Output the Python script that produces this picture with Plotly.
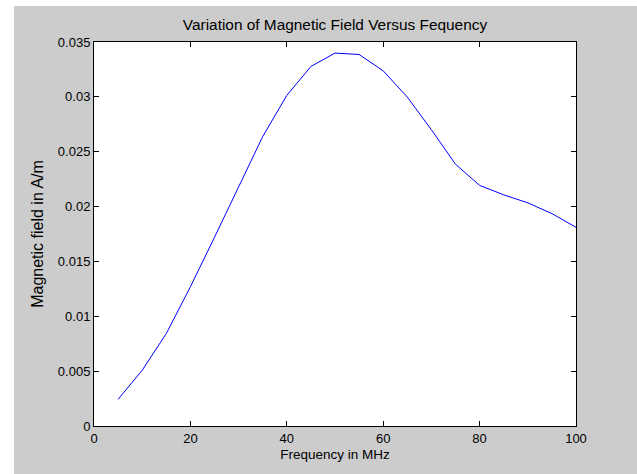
import plotly.graph_objects as go

freq = [5, 10, 15, 20, 25, 30, 35, 40, 45, 50, 55, 60, 65, 70, 75, 80, 85, 90, 95, 100]
field = [0.00243, 0.00508, 0.00843, 0.01269, 0.0172, 0.0218, 0.02638, 0.03013, 0.03277, 0.03399,
         0.03386, 0.03237, 0.02998, 0.0270, 0.02386, 0.02193, 0.02107, 0.02034, 0.01936, 0.01811]
xticks = [0, 20, 40, 60, 80, 100]
yticks = [0, 0.005, 0.01, 0.015, 0.02, 0.025, 0.03, 0.035]
ytick_labels = ["0", "0.005", "0.01", "0.015", "0.02", "0.025", "0.03", "0.035"]

W, H = 637, 474
L, R, T, B = 94, 61, 42, 48
pw, ph = W - L - R, H - T - B

fig = go.Figure(go.Scatter(x=freq, y=field, mode="lines",
                           line=dict(color="#0000ff", width=1)))

FAM = "Liberation Sans, Arial, sans-serif"
tickfont = dict(family=FAM, size=13, color="#000000")
axis_common = dict(showline=True, linecolor="#000000", linewidth=1, mirror="ticks",
                   ticks="inside", ticklen=5, tickcolor="#000000", tickwidth=1,
                   showgrid=False, zeroline=False, tickfont=tickfont)

fig.update_layout(
    width=W, height=H,
    margin=dict(l=L, r=R, t=T, b=B, pad=0),
    paper_bgcolor="#cccccc", plot_bgcolor="#ffffff",
    showlegend=False,
    font=tickfont,
    title=dict(text="Variation of Magnetic Field Versus Fequency", x=(L + pw / 2) / W,
               xanchor="center", y=1 - 25 / H, yanchor="middle",
               font=dict(family=FAM, size=15.4, color="#000000")),
    xaxis=dict(range=[0, 100], tickvals=xticks, ticktext=[str(v) for v in xticks],
               title=dict(text="Frequency in MHz", standoff=4,
                          font=dict(family=FAM, size=13.5, color="#000000")), **axis_common),
    yaxis=dict(range=[0, 0.035], tickvals=yticks, ticktext=ytick_labels,
               title=dict(text="Magnetic field in A/m", standoff=10,
                          font=dict(family=FAM, size=16, color="#000000")), **axis_common),
    shapes=[
        dict(type="rect", xref="paper", yref="paper", x0=-L / pw - 0.1, x1=(14 - L) / pw,
             y0=-1, y1=2, fillcolor="#ffffff", line=dict(width=0), layer="below"),
        dict(type="rect", xref="paper", yref="paper", x0=-1, x1=2,
             y0=(H - B - 6) / ph, y1=3, fillcolor="#ffffff", line=dict(width=0), layer="below"),
    ],
)

fig.write_html("out.html")
